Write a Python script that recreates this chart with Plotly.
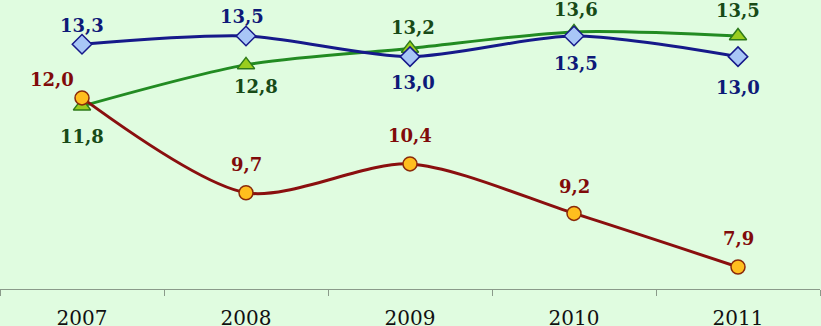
import plotly.graph_objects as go

years = ["2007", "2008", "2009", "2010", "2011"]
blue_vals = [13.3, 13.5, 13.0, 13.5, 13.0]
green_vals = [11.8, 12.8, 13.2, 13.6, 13.5]
red_vals = [12.0, 9.7, 10.4, 9.2, 7.9]

# label offsets (pixels) – style config
blue_off = [(0, 19), (-4, 20), (3, -26), (2, -27), (0, -31)]
green_off = [(0, -30), (10, -22), (3, 21), (2, 22), (0, 26)]
red_off = [(-30, 18), (0, 28), (0, 28), (0, 27), (0, 29)]

BG = "#E0FCE0"

def fmt(v):
    return f"{v:.1f}".replace(".", ",")

series = [
    dict(name="green", vals=green_vals, off=green_off, line="#228B22",
         mfill="#9ACD1E", mline="#2E7A1A", symbol="triangle-up", msize=15,
         tcolor="#174A17"),
    dict(name="blue", vals=blue_vals, off=blue_off, line="#16198A",
         mfill="#A8C6F6", mline="#16198A", symbol="diamond", msize=15,
         tcolor="#0E1A78"),
    dict(name="red", vals=red_vals, off=red_off, line="#8A0F0F",
         mfill="#FFBE1E", mline="#8A2A0A", symbol="circle", msize=14,
         tcolor="#800A0A"),
]

fig = go.Figure()
annotations = []
for s in series:
    fig.add_trace(go.Scatter(
        x=years, y=s["vals"], mode="lines+markers",
        line=dict(color=s["line"], width=3, shape="spline", smoothing=0.8),
        marker=dict(symbol=s["symbol"], size=s["msize"], color=s["mfill"],
                    line=dict(color=s["mline"], width=1.5)),
        showlegend=False, hoverinfo="skip", cliponaxis=False,
    ))
    for i, (v, (dx, dy)) in enumerate(zip(s["vals"], s["off"])):
        annotations.append(dict(
            x=i, y=v, xref="x", yref="y", text="<b>" + fmt(v) + "</b>",
            showarrow=False, xshift=dx, yshift=dy,
            font=dict(family="DejaVu Serif", size=18, color=s["tcolor"]),
        ))

fig.update_layout(
    width=821, height=326,
    margin=dict(l=0, r=1, t=0, b=37, autoexpand=False),
    paper_bgcolor=BG, plot_bgcolor=BG,
    annotations=annotations,
    xaxis=dict(
        type="category", range=[-0.5, 4.5], showgrid=False, zeroline=False,
        showline=True, linecolor="#8A9A8A", linewidth=1, automargin=False,
        ticks="outside", ticklen=6, tickcolor="#8A9A8A", tickson="boundaries",
        ticklabelstandoff=11,
        tickfont=dict(family="DejaVu Serif", size=20, color="#111111"),
    ),
    yaxis=dict(range=[7.367, 14.373], showticklabels=False, showgrid=False,
               zeroline=False, showline=False, ticks="", automargin=False),
)

fig.write_html("out.html", config={"displayModeBar": False},
               post_script="document.body.style.margin='0';document.body.style.overflow='hidden';")
